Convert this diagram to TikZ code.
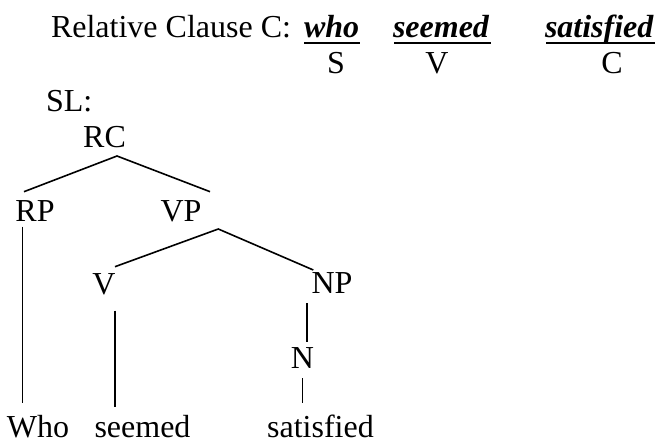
\documentclass[tikz,border=0pt]{standalone}
\usepackage{fontspec}
\setmainfont{Liberation Serif}
\usetikzlibrary{calc}
\begin{document}
\begin{tikzpicture}[x=1pt,y=-1pt,
  lbl/.style={inner sep=0pt,outer sep=0pt,font=\fontsize{32}{38}\selectfont},
  edge/.style={line width=1.6pt},
  uline/.style={line width=1.8pt}]
\useasboundingbox (0,0) rectangle (658,443);
% header
\node[lbl,anchor=base west] (title) at (51,37.3) {Relative Clause C:};
\node[lbl,anchor=base west] (who) at (304,37.3) {\textbf{\textit{who}}};
\node[lbl,anchor=base west] (seemedh) at (393,37.3) {\textbf{\textit{seemed}}};
\node[lbl,anchor=base west] (satisfiedh) at (545,37.3) {\textbf{\textit{satisfied}}};
\draw[uline] (304,42.7) coordinate (u1a) -- (360,42.7) coordinate (u1b);
\draw[uline] (394,42.7) coordinate (u2a) -- (491,42.7) coordinate (u2b);
\draw[uline] (546,42.7) coordinate (u3a) -- (655,42.7) coordinate (u3b);
\node[lbl,anchor=base] (S) at (336,74) {S};
\node[lbl,anchor=base] (Vh) at (437,74) {V};
\node[lbl,anchor=base] (Ch) at (612,74) {C};
% tree
\node[lbl,anchor=base west] (SL) at (46,111.7) {SL:};
\node[lbl,anchor=base] (RC) at (104.5,148) {RC};
\node[lbl,anchor=base] (RP) at (35,221.7) {RP};
\node[lbl,anchor=base] (VP) at (181,221.7) {VP};
\node[lbl,anchor=base] (V) at (104,294.5) {V};
\node[lbl,anchor=base] (NP) at (332,293.5) {NP};
\node[lbl,anchor=base] (N) at (302.5,368.3) {N};
\node[lbl,anchor=base] (Who) at (38,437) {Who};
\node[lbl,anchor=base] (seemed) at (142.5,437) {seemed};
\node[lbl,anchor=base] (satisfied) at (320.5,437) {satisfied};
% connector end points
\coordinate (rcB) at (117,156);
\coordinate (rpT) at (24,191.7);
\coordinate (vpT) at (210,191.7);
\coordinate (rpB) at (22.5,226.7);
\coordinate (whoT) at (22.5,403.3);
\coordinate (vpB) at (218.3,229);
\coordinate (vT) at (115,266.7);
\coordinate (npT) at (313.3,270);
\coordinate (vB) at (115,310.7);
\coordinate (seemedT) at (115,406.7);
\coordinate (npB) at (306.7,303.3);
\coordinate (nT) at (306.7,341.7);
\coordinate (nB) at (302.3,378.3);
\coordinate (satT) at (302.3,403.3);
\draw[edge] (rpT) -- (rcB) -- (vpT);
\draw[edge] (rpB) -- (whoT);
\draw[edge] (vT) -- (vpB) -- (npT);
\draw[edge] (vB) -- (seemedT);
\draw[edge] (npB) -- (nT);
\draw[edge] (nB) -- (satT);
\end{tikzpicture}
\end{document}
